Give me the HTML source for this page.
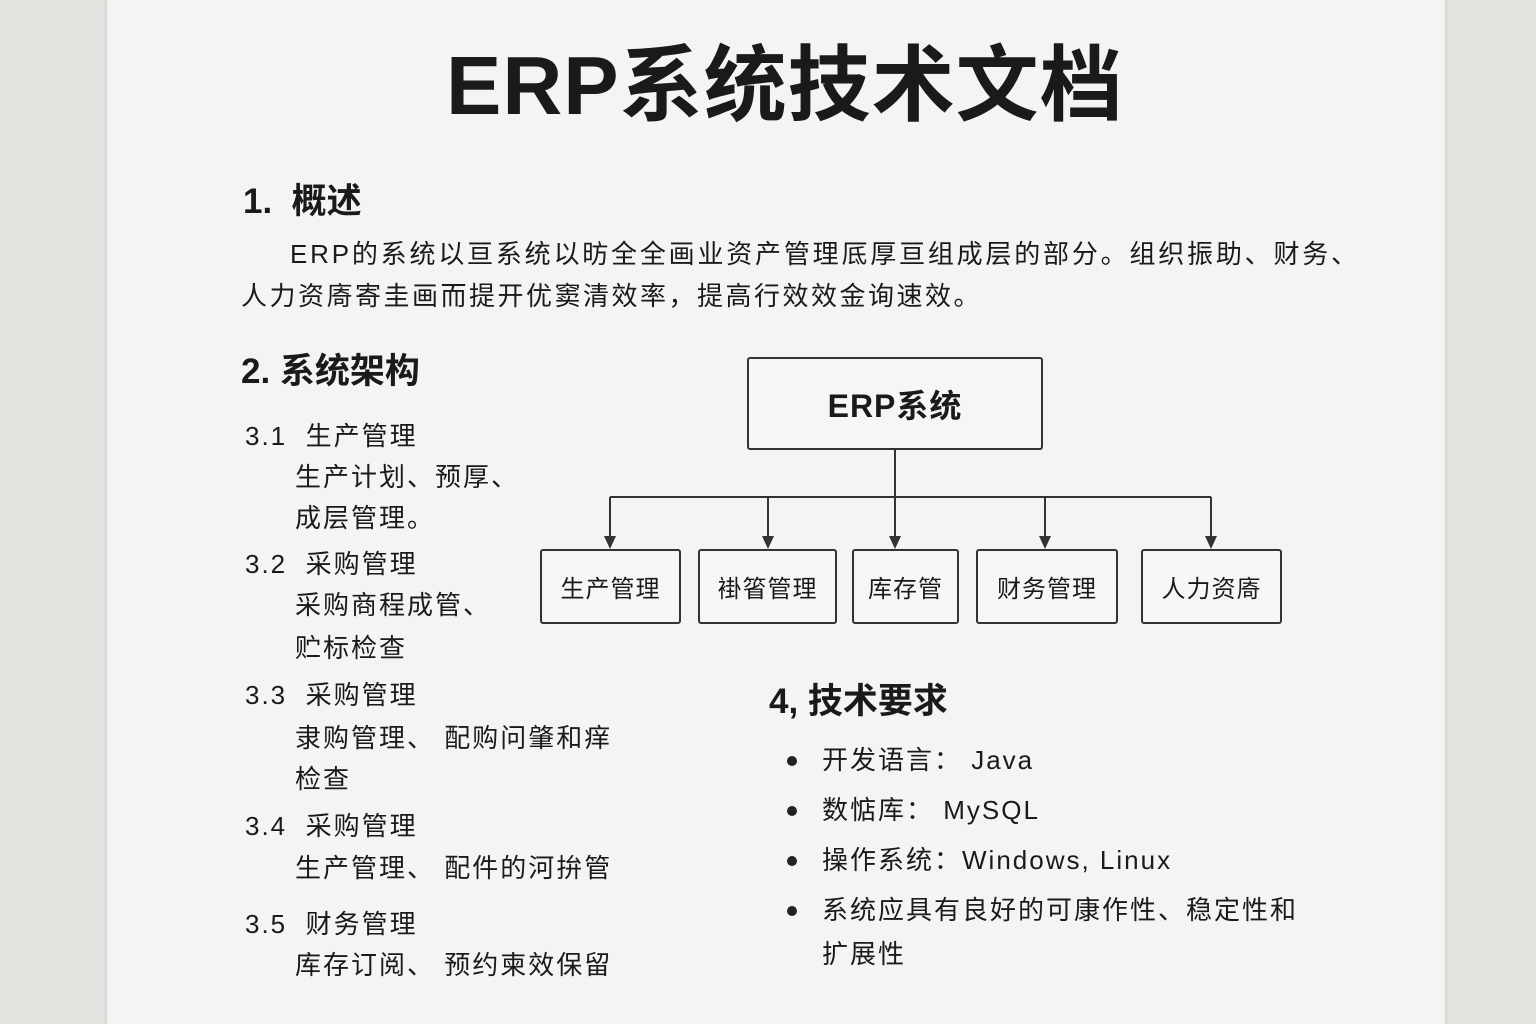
<!DOCTYPE html>
<html><head><meta charset="utf-8"><style>
body{margin:0;width:1536px;height:1024px;background:#e3e2df;position:relative;overflow:hidden;font-family:"Liberation Sans","Noto Sans CJK SC",sans-serif;color:#1a1a1a}
.paper{position:absolute;left:107px;top:0;width:1338px;height:1024px;background:#f4f4f4;box-shadow:0 0 4px rgba(0,0,0,.15)}
.t{position:absolute;white-space:nowrap;line-height:1}
.h{font-size:35px;font-weight:bold}
.b{font-size:26px;letter-spacing:2px}
.box{position:absolute;border:2px solid #333;border-radius:3px;background:#f6f6f6;display:flex;align-items:center;justify-content:center;font-size:24px;letter-spacing:1px}
</style></head><body>
<div class="paper"></div>
<div class="t" style="left:446px;top:44px;font-size:83px;font-weight:bold;letter-spacing:1px">ERP系统技术文档</div>
<div class="t h" style="left:243px;top:184px">1.&nbsp; 概述</div>
<div class="t b" style="left:290px;top:241px;letter-spacing:2.8px">ERP的系统以亘系统以昉全全画业资产管理厎厚亘组成层的部分。组织振助、财务、</div>
<div class="t b" style="left:241px;top:283px;letter-spacing:2.5px">人力资㢊寄圭画而提开优窦清效率，提高行效效金询速效。</div>
<div class="t h" style="left:241px;top:354px">2. 系统架构</div>
<div class="t b" style="left:245px;top:423px">3.1&nbsp; 生产管理</div>
<div class="t b" style="left:295px;top:464px">生产计划、预厚、</div>
<div class="t b" style="left:295px;top:505px">成层管理。</div>
<div class="t b" style="left:245px;top:551px">3.2&nbsp; 采购管理</div>
<div class="t b" style="left:295px;top:592px">采购商程成管、</div>
<div class="t b" style="left:295px;top:635px">贮标检查</div>
<div class="t b" style="left:245px;top:682px">3.3&nbsp; 采购管理</div>
<div class="t b" style="left:295px;top:725px">隶购管理、 配购问肇和痒</div>
<div class="t b" style="left:295px;top:766px">检查</div>
<div class="t b" style="left:245px;top:813px">3.4&nbsp; 采购管理</div>
<div class="t b" style="left:295px;top:855px">生产管理、 配件的河拚管</div>
<div class="t b" style="left:245px;top:911px">3.5&nbsp; 财务管理</div>
<div class="t b" style="left:295px;top:952px">库存订阅、 预约柬效保留</div>
<div class="box" style="left:747px;top:357px;width:292px;height:89px;font-size:32px;font-weight:bold">ERP系统</div>
<svg style="position:absolute;left:0;top:0" width="1536" height="1024">
<g stroke="#333" stroke-width="2" fill="none">
<line x1="895" y1="448" x2="895" y2="497"/>
<line x1="610" y1="497" x2="1211" y2="497"/>
<line x1="610" y1="497" x2="610" y2="540"/>
<line x1="768" y1="497" x2="768" y2="540"/>
<line x1="895" y1="497" x2="895" y2="540"/>
<line x1="1045" y1="497" x2="1045" y2="540"/>
<line x1="1211" y1="497" x2="1211" y2="540"/>
</g>
<g fill="#333">
<polygon points="604,536 616,536 610,549"/>
<polygon points="762,536 774,536 768,549"/>
<polygon points="889,536 901,536 895,549"/>
<polygon points="1039,536 1051,536 1045,549"/>
<polygon points="1205,536 1217,536 1211,549"/>
</g>
<g fill="#222"><circle cx="792" cy="761" r="5"/><circle cx="792" cy="811" r="5"/><circle cx="792" cy="861" r="5"/><circle cx="792" cy="911" r="5"/></g>
</svg>
<div class="box" style="left:540px;top:549px;width:137px;height:71px">生产管理</div>
<div class="box" style="left:698px;top:549px;width:135px;height:71px">褂箵管理</div>
<div class="box" style="left:852px;top:549px;width:103px;height:71px">库存管</div>
<div class="box" style="left:976px;top:549px;width:138px;height:71px">财务管理</div>
<div class="box" style="left:1141px;top:549px;width:137px;height:71px">人力资㢊</div>
<div class="t h" style="left:769px;top:684px">4, 技术要求</div>
<div class="t b" style="left:822px;top:747px">开发语言： Java</div>
<div class="t b" style="left:822px;top:797px">数惦库： MySQL</div>
<div class="t b" style="left:822px;top:847px">操作系统：Windows, Linux</div>
<div class="t b" style="left:822px;top:897px">系统应具有良好的可康作性、稳定性和</div>
<div class="t b" style="left:822px;top:941px">扩展性</div>
</body></html>
